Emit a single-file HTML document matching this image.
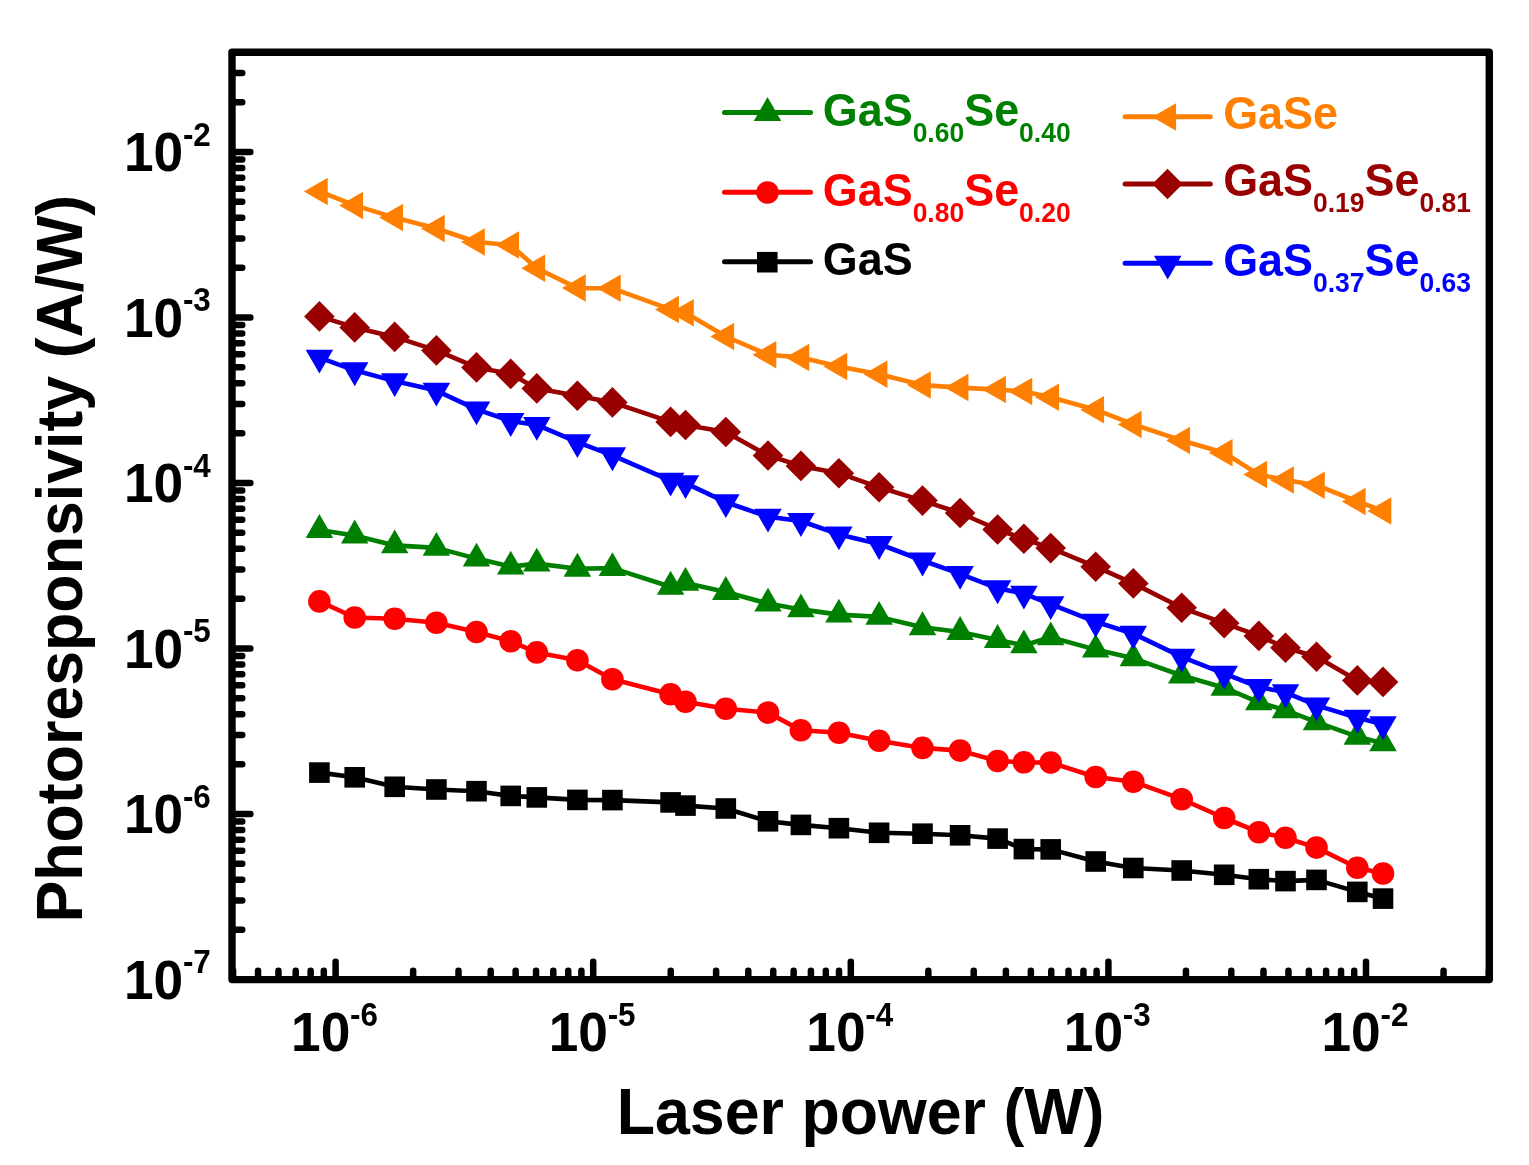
<!DOCTYPE html>
<html><head><meta charset="utf-8"><title>Photoresponsivity vs Laser power</title>
<style>html,body{margin:0;padding:0;background:#fff;}svg{display:block;}</style></head>
<body>
<svg width="1529" height="1165" viewBox="0 0 1529 1165">
<rect width="1529" height="1165" fill="#ffffff"/>
<polyline fill="none" stroke="#000000" stroke-width="4.6" stroke-linejoin="round" points="319.4,772.6 354.7,777.3 394.7,786.8 436.4,789.5 476.5,791.2 510.7,795.9 536.8,797.4 577.4,799.9 612.4,800.1 670.6,802.4 685.5,805.6 725.8,808.5 768,821.3 800.9,824.9 838.9,828.2 879.1,832.8 922.5,833.7 960.1,835.3 997.6,838.6 1023.9,849.1 1050.7,849.4 1095.7,861.5 1133.3,868 1181.7,870.5 1224.2,874.8 1258.8,879.2 1285.5,881.1 1316.5,879.9 1357.3,891.9 1383,898.6"/>
<rect x="309.10" y="762.30" width="20.6" height="20.6" fill="#000000"/>
<rect x="344.40" y="767.00" width="20.6" height="20.6" fill="#000000"/>
<rect x="384.40" y="776.50" width="20.6" height="20.6" fill="#000000"/>
<rect x="426.10" y="779.20" width="20.6" height="20.6" fill="#000000"/>
<rect x="466.20" y="780.90" width="20.6" height="20.6" fill="#000000"/>
<rect x="500.40" y="785.60" width="20.6" height="20.6" fill="#000000"/>
<rect x="526.50" y="787.10" width="20.6" height="20.6" fill="#000000"/>
<rect x="567.10" y="789.60" width="20.6" height="20.6" fill="#000000"/>
<rect x="602.10" y="789.80" width="20.6" height="20.6" fill="#000000"/>
<rect x="660.30" y="792.10" width="20.6" height="20.6" fill="#000000"/>
<rect x="675.20" y="795.30" width="20.6" height="20.6" fill="#000000"/>
<rect x="715.50" y="798.20" width="20.6" height="20.6" fill="#000000"/>
<rect x="757.70" y="811.00" width="20.6" height="20.6" fill="#000000"/>
<rect x="790.60" y="814.60" width="20.6" height="20.6" fill="#000000"/>
<rect x="828.60" y="817.90" width="20.6" height="20.6" fill="#000000"/>
<rect x="868.80" y="822.50" width="20.6" height="20.6" fill="#000000"/>
<rect x="912.20" y="823.40" width="20.6" height="20.6" fill="#000000"/>
<rect x="949.80" y="825.00" width="20.6" height="20.6" fill="#000000"/>
<rect x="987.30" y="828.30" width="20.6" height="20.6" fill="#000000"/>
<rect x="1013.60" y="838.80" width="20.6" height="20.6" fill="#000000"/>
<rect x="1040.40" y="839.10" width="20.6" height="20.6" fill="#000000"/>
<rect x="1085.40" y="851.20" width="20.6" height="20.6" fill="#000000"/>
<rect x="1123.00" y="857.70" width="20.6" height="20.6" fill="#000000"/>
<rect x="1171.40" y="860.20" width="20.6" height="20.6" fill="#000000"/>
<rect x="1213.90" y="864.50" width="20.6" height="20.6" fill="#000000"/>
<rect x="1248.50" y="868.90" width="20.6" height="20.6" fill="#000000"/>
<rect x="1275.20" y="870.80" width="20.6" height="20.6" fill="#000000"/>
<rect x="1306.20" y="869.60" width="20.6" height="20.6" fill="#000000"/>
<rect x="1347.00" y="881.60" width="20.6" height="20.6" fill="#000000"/>
<rect x="1372.70" y="888.30" width="20.6" height="20.6" fill="#000000"/>
<polyline fill="none" stroke="#ff0000" stroke-width="4.6" stroke-linejoin="round" points="319.4,601.4 354.7,617.5 394.7,618.7 436.4,622.7 476.5,632 510.7,641.3 536.8,652.4 577.4,660.2 612.4,679.2 670.6,694.2 685.5,701.8 725.8,708.8 768,712.6 800.9,730.2 838.9,732.7 879.1,740.7 922.5,747.9 960.1,750.6 997.6,761 1023.9,762.3 1050.7,762.6 1095.7,777 1133.3,781.7 1181.7,799.2 1224.2,818 1258.8,832.2 1285.5,837.7 1316.5,847.6 1357.3,867.7 1383,873.5"/>
<circle cx="319.40" cy="601.40" r="11.3" fill="#ff0000"/>
<circle cx="354.70" cy="617.50" r="11.3" fill="#ff0000"/>
<circle cx="394.70" cy="618.70" r="11.3" fill="#ff0000"/>
<circle cx="436.40" cy="622.70" r="11.3" fill="#ff0000"/>
<circle cx="476.50" cy="632.00" r="11.3" fill="#ff0000"/>
<circle cx="510.70" cy="641.30" r="11.3" fill="#ff0000"/>
<circle cx="536.80" cy="652.40" r="11.3" fill="#ff0000"/>
<circle cx="577.40" cy="660.20" r="11.3" fill="#ff0000"/>
<circle cx="612.40" cy="679.20" r="11.3" fill="#ff0000"/>
<circle cx="670.60" cy="694.20" r="11.3" fill="#ff0000"/>
<circle cx="685.50" cy="701.80" r="11.3" fill="#ff0000"/>
<circle cx="725.80" cy="708.80" r="11.3" fill="#ff0000"/>
<circle cx="768.00" cy="712.60" r="11.3" fill="#ff0000"/>
<circle cx="800.90" cy="730.20" r="11.3" fill="#ff0000"/>
<circle cx="838.90" cy="732.70" r="11.3" fill="#ff0000"/>
<circle cx="879.10" cy="740.70" r="11.3" fill="#ff0000"/>
<circle cx="922.50" cy="747.90" r="11.3" fill="#ff0000"/>
<circle cx="960.10" cy="750.60" r="11.3" fill="#ff0000"/>
<circle cx="997.60" cy="761.00" r="11.3" fill="#ff0000"/>
<circle cx="1023.90" cy="762.30" r="11.3" fill="#ff0000"/>
<circle cx="1050.70" cy="762.60" r="11.3" fill="#ff0000"/>
<circle cx="1095.70" cy="777.00" r="11.3" fill="#ff0000"/>
<circle cx="1133.30" cy="781.70" r="11.3" fill="#ff0000"/>
<circle cx="1181.70" cy="799.20" r="11.3" fill="#ff0000"/>
<circle cx="1224.20" cy="818.00" r="11.3" fill="#ff0000"/>
<circle cx="1258.80" cy="832.20" r="11.3" fill="#ff0000"/>
<circle cx="1285.50" cy="837.70" r="11.3" fill="#ff0000"/>
<circle cx="1316.50" cy="847.60" r="11.3" fill="#ff0000"/>
<circle cx="1357.30" cy="867.70" r="11.3" fill="#ff0000"/>
<circle cx="1383.00" cy="873.50" r="11.3" fill="#ff0000"/>
<polyline fill="none" stroke="#008000" stroke-width="4.6" stroke-linejoin="round" points="319.4,530 354.7,535.5 394.7,545.4 436.4,547.9 476.5,558.6 510.7,566.6 536.8,563.6 577.4,568.7 612.4,568.1 670.6,586.7 685.5,582.9 725.8,592 768,603.6 800.9,609.4 838.9,614.6 879.1,616.9 922.5,627.2 960.1,632 997.6,640 1023.9,645.3 1050.7,637.3 1095.7,649.6 1133.3,658.3 1181.7,675.5 1224.2,687.7 1258.8,702.4 1285.5,710.2 1316.5,722.2 1357.3,736.7 1383,743.2"/>
<polygon points="319.40,514.12 305.65,537.94 333.15,537.94" fill="#008000"/>
<polygon points="354.70,519.62 340.95,543.44 368.45,543.44" fill="#008000"/>
<polygon points="394.70,529.52 380.95,553.34 408.45,553.34" fill="#008000"/>
<polygon points="436.40,532.02 422.65,555.84 450.15,555.84" fill="#008000"/>
<polygon points="476.50,542.72 462.75,566.54 490.25,566.54" fill="#008000"/>
<polygon points="510.70,550.72 496.95,574.54 524.45,574.54" fill="#008000"/>
<polygon points="536.80,547.72 523.05,571.54 550.55,571.54" fill="#008000"/>
<polygon points="577.40,552.82 563.65,576.64 591.15,576.64" fill="#008000"/>
<polygon points="612.40,552.22 598.65,576.04 626.15,576.04" fill="#008000"/>
<polygon points="670.60,570.82 656.85,594.64 684.35,594.64" fill="#008000"/>
<polygon points="685.50,567.02 671.75,590.84 699.25,590.84" fill="#008000"/>
<polygon points="725.80,576.12 712.05,599.94 739.55,599.94" fill="#008000"/>
<polygon points="768.00,587.72 754.25,611.54 781.75,611.54" fill="#008000"/>
<polygon points="800.90,593.52 787.15,617.34 814.65,617.34" fill="#008000"/>
<polygon points="838.90,598.72 825.15,622.54 852.65,622.54" fill="#008000"/>
<polygon points="879.10,601.02 865.35,624.84 892.85,624.84" fill="#008000"/>
<polygon points="922.50,611.32 908.75,635.14 936.25,635.14" fill="#008000"/>
<polygon points="960.10,616.12 946.35,639.94 973.85,639.94" fill="#008000"/>
<polygon points="997.60,624.12 983.85,647.94 1011.35,647.94" fill="#008000"/>
<polygon points="1023.90,629.42 1010.15,653.24 1037.65,653.24" fill="#008000"/>
<polygon points="1050.70,621.42 1036.95,645.24 1064.45,645.24" fill="#008000"/>
<polygon points="1095.70,633.72 1081.95,657.54 1109.45,657.54" fill="#008000"/>
<polygon points="1133.30,642.42 1119.55,666.24 1147.05,666.24" fill="#008000"/>
<polygon points="1181.70,659.62 1167.95,683.44 1195.45,683.44" fill="#008000"/>
<polygon points="1224.20,671.82 1210.45,695.64 1237.95,695.64" fill="#008000"/>
<polygon points="1258.80,686.52 1245.05,710.34 1272.55,710.34" fill="#008000"/>
<polygon points="1285.50,694.32 1271.75,718.14 1299.25,718.14" fill="#008000"/>
<polygon points="1316.50,706.32 1302.75,730.14 1330.25,730.14" fill="#008000"/>
<polygon points="1357.30,720.82 1343.55,744.64 1371.05,744.64" fill="#008000"/>
<polygon points="1383.00,727.32 1369.25,751.14 1396.75,751.14" fill="#008000"/>
<polyline fill="none" stroke="#ff8000" stroke-width="4.6" stroke-linejoin="round" points="319.4,191.4 354.7,205.4 394.7,217.6 436.4,228.5 476.5,242 510.7,245 536.8,268.2 577.4,288.1 612.4,288.3 670.6,309.4 685.5,312.8 725.8,336.5 768,354.8 800.9,357.4 838.9,366.6 879.1,374.3 922.5,385.1 960.1,387.6 997.6,389.6 1023.9,391.4 1050.7,397.3 1095.7,409.7 1133.3,424.4 1181.7,440.5 1224.2,452.8 1258.8,474.6 1285.5,480 1316.5,485.2 1357.3,501.5 1383,510.9"/>
<polygon points="303.92,191.40 327.74,177.65 327.74,205.15" fill="#ff8000"/>
<polygon points="339.22,205.40 363.04,191.65 363.04,219.15" fill="#ff8000"/>
<polygon points="379.22,217.60 403.04,203.85 403.04,231.35" fill="#ff8000"/>
<polygon points="420.92,228.50 444.74,214.75 444.74,242.25" fill="#ff8000"/>
<polygon points="461.02,242.00 484.84,228.25 484.84,255.75" fill="#ff8000"/>
<polygon points="495.22,245.00 519.04,231.25 519.04,258.75" fill="#ff8000"/>
<polygon points="521.32,268.20 545.14,254.45 545.14,281.95" fill="#ff8000"/>
<polygon points="561.92,288.10 585.74,274.35 585.74,301.85" fill="#ff8000"/>
<polygon points="596.92,288.30 620.74,274.55 620.74,302.05" fill="#ff8000"/>
<polygon points="655.12,309.40 678.94,295.65 678.94,323.15" fill="#ff8000"/>
<polygon points="670.02,312.80 693.84,299.05 693.84,326.55" fill="#ff8000"/>
<polygon points="710.32,336.50 734.14,322.75 734.14,350.25" fill="#ff8000"/>
<polygon points="752.52,354.80 776.34,341.05 776.34,368.55" fill="#ff8000"/>
<polygon points="785.42,357.40 809.24,343.65 809.24,371.15" fill="#ff8000"/>
<polygon points="823.42,366.60 847.24,352.85 847.24,380.35" fill="#ff8000"/>
<polygon points="863.62,374.30 887.44,360.55 887.44,388.05" fill="#ff8000"/>
<polygon points="907.02,385.10 930.84,371.35 930.84,398.85" fill="#ff8000"/>
<polygon points="944.62,387.60 968.44,373.85 968.44,401.35" fill="#ff8000"/>
<polygon points="982.12,389.60 1005.94,375.85 1005.94,403.35" fill="#ff8000"/>
<polygon points="1008.42,391.40 1032.24,377.65 1032.24,405.15" fill="#ff8000"/>
<polygon points="1035.22,397.30 1059.04,383.55 1059.04,411.05" fill="#ff8000"/>
<polygon points="1080.22,409.70 1104.04,395.95 1104.04,423.45" fill="#ff8000"/>
<polygon points="1117.82,424.40 1141.64,410.65 1141.64,438.15" fill="#ff8000"/>
<polygon points="1166.22,440.50 1190.04,426.75 1190.04,454.25" fill="#ff8000"/>
<polygon points="1208.72,452.80 1232.54,439.05 1232.54,466.55" fill="#ff8000"/>
<polygon points="1243.32,474.60 1267.14,460.85 1267.14,488.35" fill="#ff8000"/>
<polygon points="1270.02,480.00 1293.84,466.25 1293.84,493.75" fill="#ff8000"/>
<polygon points="1301.02,485.20 1324.84,471.45 1324.84,498.95" fill="#ff8000"/>
<polygon points="1341.82,501.50 1365.64,487.75 1365.64,515.25" fill="#ff8000"/>
<polygon points="1367.52,510.90 1391.34,497.15 1391.34,524.65" fill="#ff8000"/>
<polyline fill="none" stroke="#990000" stroke-width="4.6" stroke-linejoin="round" points="319.4,316.4 354.7,327.4 394.7,336.9 436.4,350.4 476.5,367.4 510.7,373.9 536.8,388.4 577.4,395.8 612.4,402.4 670.6,421.9 685.5,425 725.8,432 768,455.5 800.9,465.9 838.9,473.2 879.1,487.3 922.5,500.6 960.1,513 997.6,529.5 1023.9,538.8 1050.7,548.1 1095.7,566.7 1133.3,583.4 1181.7,607.8 1224.2,623.2 1258.8,635.9 1285.5,647.7 1316.5,656.8 1357.3,680.4 1383,681.9"/>
<polygon points="319.40,301.10 334.70,316.40 319.40,331.70 304.10,316.40" fill="#990000"/>
<polygon points="354.70,312.10 370.00,327.40 354.70,342.70 339.40,327.40" fill="#990000"/>
<polygon points="394.70,321.60 410.00,336.90 394.70,352.20 379.40,336.90" fill="#990000"/>
<polygon points="436.40,335.10 451.70,350.40 436.40,365.70 421.10,350.40" fill="#990000"/>
<polygon points="476.50,352.10 491.80,367.40 476.50,382.70 461.20,367.40" fill="#990000"/>
<polygon points="510.70,358.60 526.00,373.90 510.70,389.20 495.40,373.90" fill="#990000"/>
<polygon points="536.80,373.10 552.10,388.40 536.80,403.70 521.50,388.40" fill="#990000"/>
<polygon points="577.40,380.50 592.70,395.80 577.40,411.10 562.10,395.80" fill="#990000"/>
<polygon points="612.40,387.10 627.70,402.40 612.40,417.70 597.10,402.40" fill="#990000"/>
<polygon points="670.60,406.60 685.90,421.90 670.60,437.20 655.30,421.90" fill="#990000"/>
<polygon points="685.50,409.70 700.80,425.00 685.50,440.30 670.20,425.00" fill="#990000"/>
<polygon points="725.80,416.70 741.10,432.00 725.80,447.30 710.50,432.00" fill="#990000"/>
<polygon points="768.00,440.20 783.30,455.50 768.00,470.80 752.70,455.50" fill="#990000"/>
<polygon points="800.90,450.60 816.20,465.90 800.90,481.20 785.60,465.90" fill="#990000"/>
<polygon points="838.90,457.90 854.20,473.20 838.90,488.50 823.60,473.20" fill="#990000"/>
<polygon points="879.10,472.00 894.40,487.30 879.10,502.60 863.80,487.30" fill="#990000"/>
<polygon points="922.50,485.30 937.80,500.60 922.50,515.90 907.20,500.60" fill="#990000"/>
<polygon points="960.10,497.70 975.40,513.00 960.10,528.30 944.80,513.00" fill="#990000"/>
<polygon points="997.60,514.20 1012.90,529.50 997.60,544.80 982.30,529.50" fill="#990000"/>
<polygon points="1023.90,523.50 1039.20,538.80 1023.90,554.10 1008.60,538.80" fill="#990000"/>
<polygon points="1050.70,532.80 1066.00,548.10 1050.70,563.40 1035.40,548.10" fill="#990000"/>
<polygon points="1095.70,551.40 1111.00,566.70 1095.70,582.00 1080.40,566.70" fill="#990000"/>
<polygon points="1133.30,568.10 1148.60,583.40 1133.30,598.70 1118.00,583.40" fill="#990000"/>
<polygon points="1181.70,592.50 1197.00,607.80 1181.70,623.10 1166.40,607.80" fill="#990000"/>
<polygon points="1224.20,607.90 1239.50,623.20 1224.20,638.50 1208.90,623.20" fill="#990000"/>
<polygon points="1258.80,620.60 1274.10,635.90 1258.80,651.20 1243.50,635.90" fill="#990000"/>
<polygon points="1285.50,632.40 1300.80,647.70 1285.50,663.00 1270.20,647.70" fill="#990000"/>
<polygon points="1316.50,641.50 1331.80,656.80 1316.50,672.10 1301.20,656.80" fill="#990000"/>
<polygon points="1357.30,665.10 1372.60,680.40 1357.30,695.70 1342.00,680.40" fill="#990000"/>
<polygon points="1383.00,666.60 1398.30,681.90 1383.00,697.20 1367.70,681.90" fill="#990000"/>
<polyline fill="none" stroke="#0000ff" stroke-width="4.6" stroke-linejoin="round" points="319.4,357.7 354.7,370.3 394.7,381.1 436.4,390.6 476.5,409.4 510.7,421 536.8,424.9 577.4,442.2 612.4,455.3 670.6,480.7 685.5,483.2 725.8,502.2 768,516.7 800.9,521 838.9,534.4 879.1,544 922.5,560.5 960.1,573.9 997.6,588.3 1023.9,593.6 1050.7,604.2 1095.7,621.8 1133.3,633.7 1181.7,656.8 1224.2,673.6 1258.8,687 1285.5,692.3 1316.5,705.4 1357.3,717.7 1383,724.2"/>
<polygon points="319.40,373.58 305.65,349.76 333.15,349.76" fill="#0000ff"/>
<polygon points="354.70,386.18 340.95,362.36 368.45,362.36" fill="#0000ff"/>
<polygon points="394.70,396.98 380.95,373.16 408.45,373.16" fill="#0000ff"/>
<polygon points="436.40,406.48 422.65,382.66 450.15,382.66" fill="#0000ff"/>
<polygon points="476.50,425.28 462.75,401.46 490.25,401.46" fill="#0000ff"/>
<polygon points="510.70,436.88 496.95,413.06 524.45,413.06" fill="#0000ff"/>
<polygon points="536.80,440.78 523.05,416.96 550.55,416.96" fill="#0000ff"/>
<polygon points="577.40,458.08 563.65,434.26 591.15,434.26" fill="#0000ff"/>
<polygon points="612.40,471.18 598.65,447.36 626.15,447.36" fill="#0000ff"/>
<polygon points="670.60,496.58 656.85,472.76 684.35,472.76" fill="#0000ff"/>
<polygon points="685.50,499.08 671.75,475.26 699.25,475.26" fill="#0000ff"/>
<polygon points="725.80,518.08 712.05,494.26 739.55,494.26" fill="#0000ff"/>
<polygon points="768.00,532.58 754.25,508.76 781.75,508.76" fill="#0000ff"/>
<polygon points="800.90,536.88 787.15,513.06 814.65,513.06" fill="#0000ff"/>
<polygon points="838.90,550.28 825.15,526.46 852.65,526.46" fill="#0000ff"/>
<polygon points="879.10,559.88 865.35,536.06 892.85,536.06" fill="#0000ff"/>
<polygon points="922.50,576.38 908.75,552.56 936.25,552.56" fill="#0000ff"/>
<polygon points="960.10,589.78 946.35,565.96 973.85,565.96" fill="#0000ff"/>
<polygon points="997.60,604.18 983.85,580.36 1011.35,580.36" fill="#0000ff"/>
<polygon points="1023.90,609.48 1010.15,585.66 1037.65,585.66" fill="#0000ff"/>
<polygon points="1050.70,620.08 1036.95,596.26 1064.45,596.26" fill="#0000ff"/>
<polygon points="1095.70,637.68 1081.95,613.86 1109.45,613.86" fill="#0000ff"/>
<polygon points="1133.30,649.58 1119.55,625.76 1147.05,625.76" fill="#0000ff"/>
<polygon points="1181.70,672.68 1167.95,648.86 1195.45,648.86" fill="#0000ff"/>
<polygon points="1224.20,689.48 1210.45,665.66 1237.95,665.66" fill="#0000ff"/>
<polygon points="1258.80,702.88 1245.05,679.06 1272.55,679.06" fill="#0000ff"/>
<polygon points="1285.50,708.18 1271.75,684.36 1299.25,684.36" fill="#0000ff"/>
<polygon points="1316.50,721.28 1302.75,697.46 1330.25,697.46" fill="#0000ff"/>
<polygon points="1357.30,733.58 1343.55,709.76 1371.05,709.76" fill="#0000ff"/>
<polygon points="1383.00,740.08 1369.25,716.26 1396.75,716.26" fill="#0000ff"/>
<rect x="232.00" y="52.20" width="1257.30" height="927.40" fill="none" stroke="#000" stroke-width="7.4" stroke-linejoin="round"/>
<path d="M232.00 929.68H242.25M232.00 900.54H242.25M232.00 879.86H242.25M232.00 863.82H242.25M232.00 850.72H242.25M232.00 839.64H242.25M232.00 830.04H242.25M232.00 821.57H242.25M232.00 814.00H250.35M232.00 764.18H242.25M232.00 735.04H242.25M232.00 714.36H242.25M232.00 698.32H242.25M232.00 685.22H242.25M232.00 674.14H242.25M232.00 664.54H242.25M232.00 656.07H242.25M232.00 648.50H250.35M232.00 598.68H242.25M232.00 569.54H242.25M232.00 548.86H242.25M232.00 532.82H242.25M232.00 519.72H242.25M232.00 508.64H242.25M232.00 499.04H242.25M232.00 490.57H242.25M232.00 483.00H250.35M232.00 433.18H242.25M232.00 404.04H242.25M232.00 383.36H242.25M232.00 367.32H242.25M232.00 354.22H242.25M232.00 343.14H242.25M232.00 333.54H242.25M232.00 325.07H242.25M232.00 317.50H250.35M232.00 267.68H242.25M232.00 238.54H242.25M232.00 217.86H242.25M232.00 201.82H242.25M232.00 188.72H242.25M232.00 177.64H242.25M232.00 168.04H242.25M232.00 159.57H242.25M232.00 152.00H250.35M232.00 102.18H242.25M232.00 73.04H242.25M232.00 52.36H242.25M233.09 979.60V970.75M258.05 979.60V970.75M278.45 979.60V970.75M295.70 979.60V970.75M310.64 979.60V970.75M323.81 979.60V970.75M335.60 979.60V961.65M413.15 979.60V970.75M458.51 979.60V970.75M490.69 979.60V970.75M515.65 979.60V970.75M536.05 979.60V970.75M553.30 979.60V970.75M568.24 979.60V970.75M581.41 979.60V970.75M593.20 979.60V961.65M670.75 979.60V970.75M716.11 979.60V970.75M748.29 979.60V970.75M773.25 979.60V970.75M793.65 979.60V970.75M810.90 979.60V970.75M825.84 979.60V970.75M839.01 979.60V970.75M850.80 979.60V961.65M928.35 979.60V970.75M973.71 979.60V970.75M1005.89 979.60V970.75M1030.85 979.60V970.75M1051.25 979.60V970.75M1068.50 979.60V970.75M1083.44 979.60V970.75M1096.61 979.60V970.75M1108.40 979.60V961.65M1185.95 979.60V970.75M1231.31 979.60V970.75M1263.49 979.60V970.75M1288.45 979.60V970.75M1308.85 979.60V970.75M1326.10 979.60V970.75M1341.04 979.60V970.75M1354.21 979.60V970.75M1366.00 979.60V961.65M1443.55 979.60V970.75M1488.91 979.60V970.75" stroke="#000" stroke-width="6.5" stroke-linecap="round" fill="none"/>
<text transform="translate(183.19,998.58) scale(1,1.0407)" font-family="Liberation Sans, Arial, sans-serif" font-weight="bold" font-size="53.3" fill="#000" text-anchor="end" >10</text>
<text transform="translate(182.89,973.28) scale(1,1.0407)" font-family="Liberation Sans, Arial, sans-serif" font-weight="bold" font-size="31.4" fill="#000" text-anchor="start" >-7</text>
<text transform="translate(183.19,833.08) scale(1,1.0407)" font-family="Liberation Sans, Arial, sans-serif" font-weight="bold" font-size="53.3" fill="#000" text-anchor="end" >10</text>
<text transform="translate(182.89,807.78) scale(1,1.0407)" font-family="Liberation Sans, Arial, sans-serif" font-weight="bold" font-size="31.4" fill="#000" text-anchor="start" >-6</text>
<text transform="translate(183.19,667.58) scale(1,1.0407)" font-family="Liberation Sans, Arial, sans-serif" font-weight="bold" font-size="53.3" fill="#000" text-anchor="end" >10</text>
<text transform="translate(182.89,642.28) scale(1,1.0407)" font-family="Liberation Sans, Arial, sans-serif" font-weight="bold" font-size="31.4" fill="#000" text-anchor="start" >-5</text>
<text transform="translate(183.19,502.08) scale(1,1.0407)" font-family="Liberation Sans, Arial, sans-serif" font-weight="bold" font-size="53.3" fill="#000" text-anchor="end" >10</text>
<text transform="translate(182.89,476.78) scale(1,1.0407)" font-family="Liberation Sans, Arial, sans-serif" font-weight="bold" font-size="31.4" fill="#000" text-anchor="start" >-4</text>
<text transform="translate(183.19,336.58) scale(1,1.0407)" font-family="Liberation Sans, Arial, sans-serif" font-weight="bold" font-size="53.3" fill="#000" text-anchor="end" >10</text>
<text transform="translate(182.89,311.28) scale(1,1.0407)" font-family="Liberation Sans, Arial, sans-serif" font-weight="bold" font-size="31.4" fill="#000" text-anchor="start" >-3</text>
<text transform="translate(183.19,171.08) scale(1,1.0407)" font-family="Liberation Sans, Arial, sans-serif" font-weight="bold" font-size="53.3" fill="#000" text-anchor="end" >10</text>
<text transform="translate(182.89,145.78) scale(1,1.0407)" font-family="Liberation Sans, Arial, sans-serif" font-weight="bold" font-size="31.4" fill="#000" text-anchor="start" >-2</text>
<text transform="translate(291.05,1051.20) scale(1,1.0407)" font-family="Liberation Sans, Arial, sans-serif" font-weight="bold" font-size="53.3" fill="#000" text-anchor="start" >10</text>
<text transform="translate(350.03,1025.90) scale(1,1.0407)" font-family="Liberation Sans, Arial, sans-serif" font-weight="bold" font-size="31.4" fill="#000" text-anchor="start" >-6</text>
<text transform="translate(548.65,1051.20) scale(1,1.0407)" font-family="Liberation Sans, Arial, sans-serif" font-weight="bold" font-size="53.3" fill="#000" text-anchor="start" >10</text>
<text transform="translate(607.63,1025.90) scale(1,1.0407)" font-family="Liberation Sans, Arial, sans-serif" font-weight="bold" font-size="31.4" fill="#000" text-anchor="start" >-5</text>
<text transform="translate(806.25,1051.20) scale(1,1.0407)" font-family="Liberation Sans, Arial, sans-serif" font-weight="bold" font-size="53.3" fill="#000" text-anchor="start" >10</text>
<text transform="translate(865.23,1025.90) scale(1,1.0407)" font-family="Liberation Sans, Arial, sans-serif" font-weight="bold" font-size="31.4" fill="#000" text-anchor="start" >-4</text>
<text transform="translate(1063.85,1051.20) scale(1,1.0407)" font-family="Liberation Sans, Arial, sans-serif" font-weight="bold" font-size="53.3" fill="#000" text-anchor="start" >10</text>
<text transform="translate(1122.83,1025.90) scale(1,1.0407)" font-family="Liberation Sans, Arial, sans-serif" font-weight="bold" font-size="31.4" fill="#000" text-anchor="start" >-3</text>
<text transform="translate(1321.45,1051.20) scale(1,1.0407)" font-family="Liberation Sans, Arial, sans-serif" font-weight="bold" font-size="53.3" fill="#000" text-anchor="start" >10</text>
<text transform="translate(1380.43,1025.90) scale(1,1.0407)" font-family="Liberation Sans, Arial, sans-serif" font-weight="bold" font-size="31.4" fill="#000" text-anchor="start" >-2</text>
<text transform="translate(616.71,1134.10) scale(1,1.0407)" font-family="Liberation Sans, Arial, sans-serif" font-weight="bold" font-size="62.7" fill="#000" text-anchor="start" >Laser power (W)</text>
<text transform="translate(81.8,922.59) rotate(-90) scale(1,1.0407)" font-family="Liberation Sans, Arial, sans-serif" font-weight="bold" font-size="62.7" fill="#000">Photoresponsivity (A/W)</text>
<line x1="724.5" y1="112.5" x2="810.5" y2="112.5" stroke="#008000" stroke-width="5" stroke-linecap="round"/>
<polygon points="767.50,97.12 753.75,120.94 781.25,120.94" fill="#008000"/>
<text transform="translate(822.80,125.80) scale(1,1.0407)" font-family="Liberation Sans, Arial, sans-serif" font-weight="bold" font-size="44.9" fill="#008000" text-anchor="start" ><tspan font-size="44.9">GaS</tspan><tspan font-size="26.5" dy="15.4">0.60</tspan><tspan font-size="44.9" dy="-15.4">Se</tspan><tspan font-size="26.5" dy="15.4">0.40</tspan></text>
<line x1="724.5" y1="192.3" x2="810.5" y2="192.3" stroke="#ff0000" stroke-width="5" stroke-linecap="round"/>
<circle cx="767.50" cy="192.50" r="11.3" fill="#ff0000"/>
<text transform="translate(822.80,205.50) scale(1,1.0407)" font-family="Liberation Sans, Arial, sans-serif" font-weight="bold" font-size="44.9" fill="#ff0000" text-anchor="start" ><tspan font-size="44.9">GaS</tspan><tspan font-size="26.5" dy="15.4">0.80</tspan><tspan font-size="44.9" dy="-15.4">Se</tspan><tspan font-size="26.5" dy="15.4">0.20</tspan></text>
<line x1="724.5" y1="261.8" x2="810.5" y2="261.8" stroke="#000000" stroke-width="5" stroke-linecap="round"/>
<rect x="757.00" y="251.90" width="20.6" height="20.6" fill="#000000"/>
<text transform="translate(822.80,275.00) scale(1,1.0407)" font-family="Liberation Sans, Arial, sans-serif" font-weight="bold" font-size="44.9" fill="#000000" text-anchor="start" ><tspan font-size="44.9">GaS</tspan></text>
<line x1="1125.1" y1="116.8" x2="1210.3" y2="116.8" stroke="#ff8000" stroke-width="5" stroke-linecap="round"/>
<polygon points="1152.22,116.90 1176.04,103.15 1176.04,130.65" fill="#ff8000"/>
<text transform="translate(1223.20,129.00) scale(1,1.0407)" font-family="Liberation Sans, Arial, sans-serif" font-weight="bold" font-size="44.9" fill="#ff8000" text-anchor="start" ><tspan font-size="44.9">GaSe</tspan></text>
<line x1="1125.1" y1="184" x2="1210.3" y2="184" stroke="#990000" stroke-width="5" stroke-linecap="round"/>
<polygon points="1167.50,168.70 1182.80,184.00 1167.50,199.30 1152.20,184.00" fill="#990000"/>
<text transform="translate(1223.20,195.70) scale(1,1.0407)" font-family="Liberation Sans, Arial, sans-serif" font-weight="bold" font-size="44.9" fill="#990000" text-anchor="start" ><tspan font-size="44.9">GaS</tspan><tspan font-size="26.5" dy="15.4">0.19</tspan><tspan font-size="44.9" dy="-15.4">Se</tspan><tspan font-size="26.5" dy="15.4">0.81</tspan></text>
<line x1="1125.1" y1="263.2" x2="1210.3" y2="263.2" stroke="#0000ff" stroke-width="5" stroke-linecap="round"/>
<polygon points="1167.70,279.48 1153.95,255.66 1181.45,255.66" fill="#0000ff"/>
<text transform="translate(1223.20,275.50) scale(1,1.0407)" font-family="Liberation Sans, Arial, sans-serif" font-weight="bold" font-size="44.9" fill="#0000ff" text-anchor="start" ><tspan font-size="44.9">GaS</tspan><tspan font-size="26.5" dy="15.4">0.37</tspan><tspan font-size="44.9" dy="-15.4">Se</tspan><tspan font-size="26.5" dy="15.4">0.63</tspan></text>
</svg>
</body></html>
